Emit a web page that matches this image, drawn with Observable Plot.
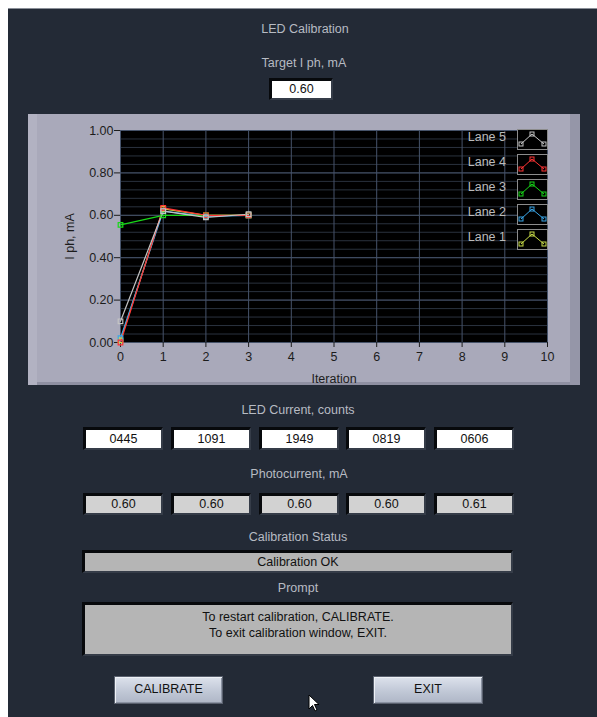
<!DOCTYPE html>
<html>
<head>
<meta charset="utf-8">
<script src="https://cdn.jsdelivr.net/npm/d3@7"></script>
<script src="https://cdn.jsdelivr.net/npm/@observablehq/plot@0.6"></script>
<style>
  html, body { margin:0; padding:0; width:597px; height:717px; overflow:hidden; background:#fff; }
  #panel { position:absolute; left:8px; top:8px; width:589px; height:709px; background:#232a36; border-top:1px solid #8a8f98; }
  .lbl { position:absolute; color:#b7bbc3; font-family:"Liberation Sans", Arial, sans-serif; font-size:12.5px; text-align:center; white-space:nowrap; }
  .box { position:absolute; box-sizing:border-box; font-family:"Liberation Sans", Arial, sans-serif; font-size:12.5px; color:#111; text-align:center;
         border-style:solid; border-width:3px 2px 2px 3px; border-color:#07090c #353c48 #353c48 #07090c; }
  .btn { position:absolute; box-sizing:border-box; font-family:"Liberation Sans", Arial, sans-serif; font-size:12.5px; color:#111; text-align:center;
         background:linear-gradient(#dde2ec, #c3cad8 50%, #aeb6c6); border:1px solid #59606e; box-shadow: inset 1px 1px 0 #eef1f6, inset -1px -1px 0 #8a92a2; line-height:25px; }
  #chart { position:absolute; left:28px; top:114px; width:552px; height:271px; background:#a9a9ba;
           box-shadow: inset 9px 0 0 #b2b2c2, inset -10px 0 0 #9596a8, inset 0 -3px 0 #8f90a2; }
  #chart svg { position:absolute; left:0; top:0; }
  .leg { position:absolute; color:#bcbcbc; font-family:"Liberation Sans", Arial, sans-serif; font-size:12.5px; text-align:right; width:60px; }
</style>
</head>
<body>
<div id="panel"></div>
<div id="root"></div>
<script>
// ---- data ----
const iterations = [0, 1, 2, 3];
const laneNames = ["Lane 1", "Lane 2", "Lane 3", "Lane 4", "Lane 5"];
const laneColors = ["#c8dc48", "#3aa6e8", "#18d818", "#ff3434", "#c4c4c4"];
const lane1 = [0.01, 0.63, 0.60, 0.60];
const lane2 = [0.02, 0.62, 0.595, 0.60];
const lane3 = [0.555, 0.60, 0.60, 0.60];
const lane4 = [0.00, 0.635, 0.60, 0.60];
const lane5 = [0.10, 0.62, 0.59, 0.605];
const xTicks = [0, 1, 2, 3, 4, 5, 6, 7, 8, 9, 10];
const yTicks = [0, 0.2, 0.4, 0.6, 0.8, 1.0];
const yMinor = d3.range(0, 1.0001, 0.04);
const targetValue = "0.60";
const ledCounts = ["0445", "1091", "1949", "0819", "0606"];
const photocurrents = ["0.60", "0.60", "0.60", "0.60", "0.61"];
const statusText = "Calibration OK";
const promptLines = ["To restart calibration, CALIBRATE.", "To exit calibration window, EXIT."];

const laneValues = [lane1, lane2, lane3, lane4, lane5];
const data = [];
laneValues.forEach((vals, i) => vals.forEach((v, j) => data.push({lane: laneNames[i], it: iterations[j], v})));

const root = document.getElementById("root");
function add(cls, css, html) {
  const d = document.createElement("div");
  d.className = cls;
  d.style.cssText = css;
  d.innerHTML = html;
  root.appendChild(d);
  return d;
}

// ---- labels and boxes ----
add("lbl", "left:205px;width:200px;top:22px;", "LED Calibration");
add("lbl", "left:204px;width:200px;top:56px;", "Target I ph, mA");
add("box", "left:269px;top:78px;width:64px;height:22px;background:#fff;line-height:17px;", targetValue);

add("lbl", "left:198px;width:200px;top:403px;", "LED Current, counts");
const boxX = [83, 171, 259, 346, 434];
ledCounts.forEach((t, i) => add("box", `left:${boxX[i]}px;top:427px;width:80px;height:23px;background:#fff;line-height:18px;`, t));
add("lbl", "left:199px;width:200px;top:467px;", "Photocurrent, mA");
photocurrents.forEach((t, i) => add("box", `left:${boxX[i]}px;top:493px;width:80px;height:22px;background:#d2d2d2;line-height:17px;`, t));

add("lbl", "left:198px;width:200px;top:530px;", "Calibration Status");
add("box", "left:82px;top:550px;width:431px;height:23px;background:#b5b5b5;line-height:18px;", statusText);
add("lbl", "left:198px;width:200px;top:581px;", "Prompt");
add("box", `left:82px;top:602px;width:431px;height:54px;background:#b5b5b5;line-height:16px;padding-top:4px;`, promptLines.join("<br>"));

add("btn", "left:114px;top:676px;width:109px;height:28px;", "CALIBRATE");
add("btn", "left:373px;top:676px;width:110px;height:28px;", "EXIT");

// cursor
add("", "position:absolute;left:308px;top:694px;width:14px;height:20px;",
  '<svg width="14" height="20"><path d="M1 1 L1 15 L4.5 11.5 L7 17 L9 16 L6.5 10.5 L11 10.5 Z" fill="#fff" stroke="#000" stroke-width="1"/></svg>');

// ---- chart ----
const chartDiv = add("", "", "");
chartDiv.id = "chart";

const plot = Plot.plot({
  width: 552,
  height: 271,
  marginLeft: 92,
  marginRight: 33,
  marginTop: 16,
  marginBottom: 43,
  style: {background: "transparent", fontFamily: "Liberation Sans, Arial, sans-serif", fontSize: "12.5px", color: "#1c1c1c", overflow: "visible"},
  x: {domain: [0, 10]},
  y: {domain: [0, 1]},
  color: {domain: laneNames, range: laneColors},
  marks: [
    Plot.frame({fill: "#000", stroke: "#000"}),
    Plot.gridY(yMinor, {stroke: "#2a323e", strokeOpacity: 1}),
    Plot.gridY(yTicks, {stroke: "#46536a", strokeOpacity: 1}),
    Plot.gridX(xTicks, {stroke: "#46536a", strokeOpacity: 1}),
    Plot.axisY(yTicks, {tickFormat: d3.format(".2f"), tickSize: 6, tickPadding: 1, label: "I ph, mA", labelAnchor: "center", labelArrow: "none", labelOffset: 55, stroke: "#1c1c1c"}),
    Plot.axisX(xTicks, {tickSize: 5, tickPadding: 5, label: "Iteration", labelAnchor: "center", labelArrow: "none", labelOffset: 40, stroke: "#1c1c1c"}),
    Plot.line(data, {x: "it", y: "v", z: "lane", stroke: "lane", strokeWidth: 1.2}),
    Plot.dot(data, {x: "it", y: "v", stroke: "lane", symbol: "square", r: 2.6, strokeWidth: 1.2, fill: "none"})
  ]
});
chartDiv.appendChild(plot);

// legend (top-right inside the plot)
const legOrder = [4, 3, 2, 1, 0];
legOrder.forEach((li, row) => {
  const top = 15 + row * 25;
  add("leg", `left:${28 + 418}px;top:${114 + top + 1}px;`, laneNames[li]);
  const c = laneColors[li];
  add("", `position:absolute;left:${28 + 489}px;top:${114 + top}px;width:31px;height:21px;`,
    `<svg width="31" height="21"><rect x="0.5" y="0.5" width="30" height="20" fill="#000" stroke="#8c8c8c"/>
     <polyline points="4,15 15,5 27,15" fill="none" stroke="${c}" stroke-width="1"/>
     <rect x="2" y="13" width="4" height="4" fill="none" stroke="${c}"/>
     <rect x="13" y="3" width="4" height="4" fill="none" stroke="${c}"/>
     <rect x="25" y="13" width="4" height="4" fill="none" stroke="${c}"/></svg>`);
});
</script>
</body>
</html>
